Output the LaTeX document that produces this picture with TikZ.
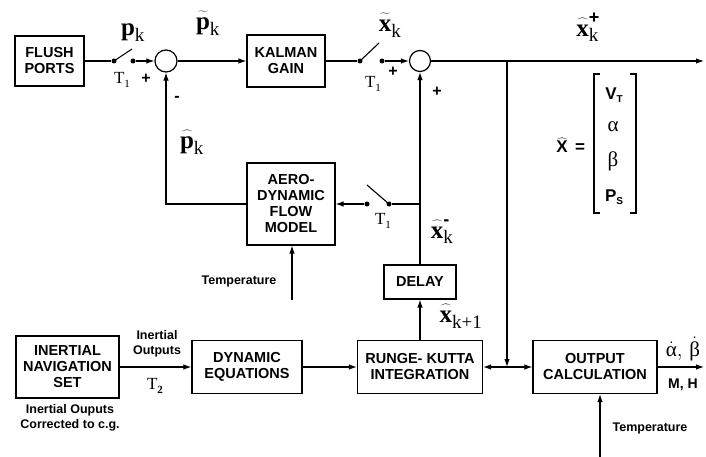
\documentclass[tikz,border=0pt]{standalone}
\usepackage{fontspec}
\setsansfont{Liberation Sans}
\newfontfamily\tmsfont{Liberation Serif}
\usetikzlibrary{arrows.meta}
\newcommand\bsym[1]{\hbox{\fontsize{25}{25}\selectfont\tmsfont\bfseries\rule{0pt}{15pt}#1}}
\newcommand\ssym[1]{\hbox{\fontsize{19}{19}\selectfont\tmsfont #1}}
\newcommand\psym[1]{\hbox{\fontsize{17}{17}\selectfont\sffamily\bfseries #1}}
\newcommand\pssub[1]{\raisebox{-3pt}{\fontsize{10}{10}\selectfont\sffamily\bfseries #1}}
\newcommand\supsgn[1]{\hbox{\fontsize{18}{18}\selectfont\sffamily\bfseries #1}}
\newcommand\gsym[1]{\hbox{\fontsize{21}{21}\selectfont\tmsfont #1}}
\newcommand\tlab[1]{\hbox{\fontsize{17}{17}\selectfont\tmsfont T\raisebox{-4pt}{\fontsize{11}{11}\selectfont #1}}}
\begin{document}
\begin{tikzpicture}[x=1pt,y=-1pt,
  box/.style={draw,line width=1.2pt,inner sep=0pt,align=center,font=\fontsize{14.5}{16}\selectfont\sffamily\bfseries},
  sumnode/.style={draw,circle,line width=1.2pt,minimum size=22pt,inner sep=0pt},
  dotnode/.style={circle,fill,inner sep=0pt,minimum size=5pt},
  arr/.style={-{Latex[length=8pt,width=5.5pt]}},
  darr/.style={{Latex[length=8pt,width=5.5pt]}-{Latex[length=8pt,width=5.5pt]}},
  ln/.style={line width=1.1pt},
  mlab/.style={inner sep=0pt,font=\fontsize{20}{22}\selectfont},
  slab/.style={inner sep=0pt,align=center,font=\fontsize{12.5}{15}\selectfont\sffamily\bfseries},
  sign/.style={inner sep=0pt,font=\fontsize{16}{16}\selectfont\sffamily\bfseries},
]
\useasboundingbox (0,0) rectangle (706,457);
% top row
\node[box,minimum width=69pt,minimum height=50pt] (flush) at (49.5,61) {FLUSH\\PORTS};
\node[dotnode] (s1a) at (114,61) {};
\node[dotnode] (s1b) at (133,61) {};
\coordinate (s1arm) at (132,49);
\node[sumnode] (sum1) at (166,61) {};
\node[box,minimum width=78pt,minimum height=52pt] (kal) at (286,61) {KALMAN\\GAIN};
\node[dotnode] (s2a) at (360,61) {};
\node[dotnode] (s2b) at (382,61) {};
\coordinate (s2arm) at (379,43);
\node[sumnode,minimum size=21pt] (sum2) at (420,61) {};
\coordinate (outend) at (704,61);
\coordinate (br) at (507,61);
% middle
\node[box,minimum width=88pt,minimum height=82pt] (aero) at (291,204) {AERO-\\DYNAMIC\\FLOW\\MODEL};
\node[dotnode] (s3a) at (367,204) {};
\node[dotnode] (s3b) at (389,204) {};
\coordinate (s3arm) at (367,185);
\node[box,minimum width=72pt,minimum height=34pt] (delay) at (420,282) {DELAY};
\coordinate (s3j) at (420,204);
\coordinate (t1s) at (292,300);
% bottom row
\node[box,minimum width=103pt,minimum height=62pt] (ins) at (67.5,367) {INERTIAL\\NAVIGATION\\SET};
\node[box,minimum width=110pt,minimum height=53pt] (dyn) at (247,367) {DYNAMIC\\EQUATIONS};
\node[box,minimum width=125pt,minimum height=53pt] (rk) at (420,367) {RUNGE- KUTTA\\INTEGRATION};
\node[box,minimum width=124pt,minimum height=53pt] (outc) at (595,367) {OUTPUT\\CALCULATION};
\coordinate (outc2) at (704,367);
\coordinate (t2s) at (600,457);
% connectors
\draw[ln] (flush.east) -- (s1a);
\draw[ln] (s1a.center) -- (s1arm);
\draw[ln,arr] (s1b) -- (sum1.west);
\draw[ln,arr] (sum1.east) -- (kal.west);
\draw[ln] (kal.east) -- (s2a);
\draw[ln] (s2a.center) -- (s2arm);
\draw[ln,arr] (s2b) -- (sum2.west);
\draw[ln,arr] (sum2.east) -- (outend);
\draw[ln,arr] (br) -- (br |- outc.west);
\draw[ln,arr] (aero.west) -| (sum1.south);
\draw[ln,arr] (s3a) -- (aero.east);
\draw[ln] (s3b.center) -- (s3arm);
\draw[ln] (s3b) -- (s3j);
\draw[ln,arr] (delay.north) -- (sum2.south);
\draw[ln,arr] (t1s) -- (t1s |- aero.south);
\draw[ln,arr] (ins.east) -- (dyn.west);
\draw[ln,arr] (dyn.east) -- (rk.west);
\draw[ln,arr] (rk.north) -- (delay.south);
\draw[ln,darr] (rk.east) -- (outc.west);
\draw[ln,arr] (outc.east) -- (outc2);
\draw[ln,arr] (t2s) -- (t2s |- outc.south);
% math labels
\node[mlab] (lpk) at (133,31) {$\bsym{p}_{\ssym{k}}$};
\node[mlab] (lptk) at (208,23) {$\widetilde{\bsym{p}}_{\ssym{k}}$};
\node[mlab] (lxtk) at (390,25) {$\widetilde{\bsym{x}}_{\ssym{k}}$};
\node[mlab] (lxhp) at (588,27) {$\widehat{\bsym{x}}^{\supsgn{+}}_{\ssym{k}}$};
\node[mlab] (lphk) at (192,142) {$\widehat{\bsym{p}}_{\ssym{k}}$};
\node[mlab] (lxhm) at (442,232) {$\widehat{\bsym{x}}^{\supsgn{-}}_{\ssym{k}}$};
\node[mlab] (lxk1) at (461,316) {$\widehat{\bsym{x}}_{\ssym{k+1}}$};
% T labels and signs
\node[inner sep=0pt] (lt1a) at (122,80) {\tlab{1}};
\node[inner sep=0pt] (lt1b) at (373,84) {\tlab{1}};
\node[inner sep=0pt] (lt1c) at (383,221) {\tlab{1}};
\node[inner sep=0pt] (lt2) at (155,386) {\hbox{\fontsize{17}{17}\selectfont\tmsfont T\raisebox{-4pt}{\fontsize{11}{11}\selectfont\bfseries 2}}};
\node[sign] (sg1) at (146,79) {+};
\node[sign] (sg2) at (177,99) {-};
\node[sign] (sg3) at (393,72) {+};
\node[sign] (sg4) at (437,92) {+};
% small text
\node[slab] (temp1) at (239,281) {Temperature};
\node[slab] (temp2) at (650,428) {Temperature};
\node[slab] (inout) at (157,344) {Inertial\\Outputs};
\node[slab] (cap) at (70,418) {Inertial Ouputs\\Corrected to c.g.};
\node[mlab] (ab) at (683,349) {$\dot{\gsym{α}},\,\dot{\gsym{β}}$};
\node[inner sep=0pt,font=\fontsize{14}{14}\selectfont\sffamily\bfseries] (mh) at (683,385) {M, H};
% state vector
\node[mlab] (xhat) at (562,145) {$\widehat{\psym{X}}$};
\node[inner sep=0pt,font=\fontsize{17}{17}\selectfont\sffamily\bfseries] (eq) at (580,148) {=};
\node[inner sep=0pt] (v1) at (614,95) {\psym{V}\pssub{T}};
\node[inner sep=0pt] (v2) at (613,127) {\gsym{α}};
\node[inner sep=0pt] (v3) at (613,161) {\gsym{β}};
\node[inner sep=0pt] (v4) at (614,197) {\psym{P}\pssub{S}};
\draw[line width=2.2pt] (600,74) -- (594,74) -- (594,213) -- (600,213);
\draw[line width=2.2pt] (630,74) -- (636,74) -- (636,213) -- (630,213);
\end{tikzpicture}
\end{document}
